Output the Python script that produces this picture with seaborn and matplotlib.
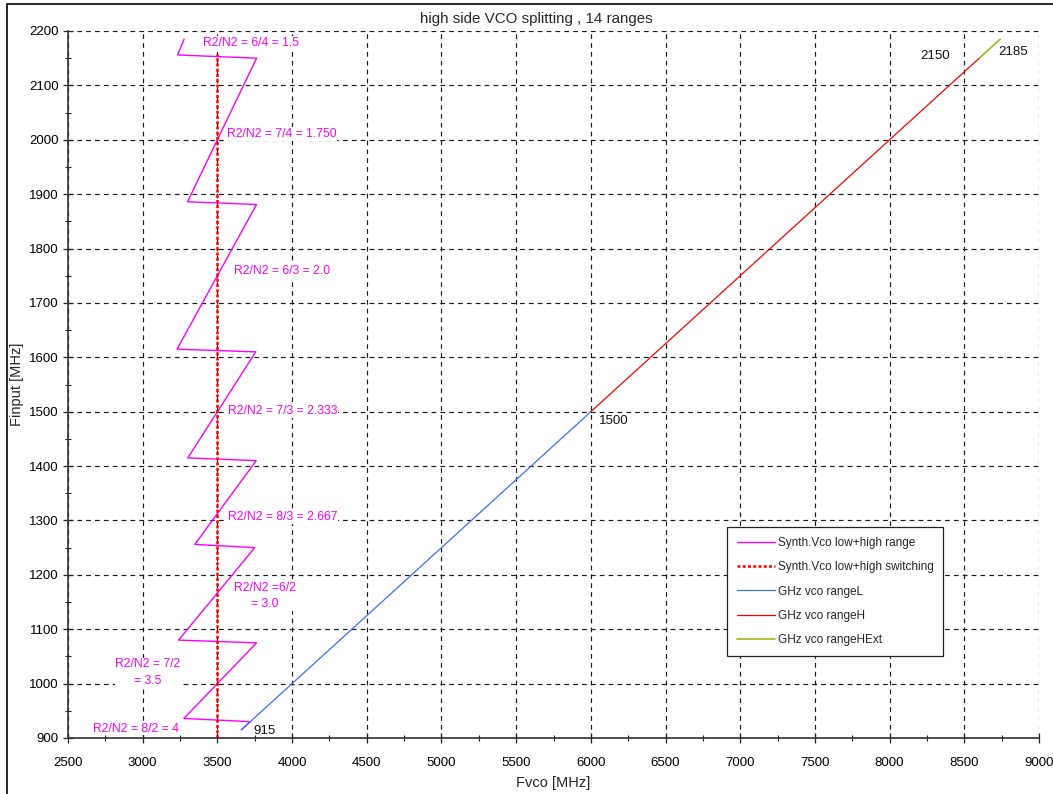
import pandas as pd
import seaborn as sns
import matplotlib.pyplot as plt
from matplotlib.patches import Rectangle
from matplotlib.ticker import MultipleLocator

# synth VCO zig-zag (low+high range)
synth_fvco = [3277.5, 3234, 3762.5, 3300.5, 3762, 3230, 3757, 3302, 3760, 3349,
              3750, 3240, 3762.5, 3276, 3720, 3660]
synth_finput = [2185, 2156, 2150, 1886, 1881, 1615, 1610, 1415, 1410, 1256,
                1250, 1080, 1075, 936, 930, 915]

# switching line
switch_fvco = [3500, 3500]
switch_finput = [900, 2158]

# GHz vco ranges
range_l_fvco = [3660, 6000]
range_l_finput = [915, 1500]
range_h_fvco = [6000, 8600]
range_h_finput = [1500, 2150]
range_hext_fvco = [8600, 8740]
range_hext_finput = [2150, 2185]

ratio_labels = ["R2/N2 = 6/4 = 1.5", "R2/N2 = 7/4 = 1.750", "R2/N2 = 6/3 = 2.0",
                "R2/N2 = 7/3 = 2.333", "R2/N2 = 8/3 = 2.667", "R2/N2 =6/2\n= 3.0",
                "R2/N2 = 7/2\n= 3.5", "R2/N2 = 8/2 = 4"]
ratio_label_pos = [(3725, 2178), (3932, 2011), (3932, 1759), (3939, 1501),
                   (3939, 1306), (3819, 1161), (3035, 1020), (2955, 917)]

point_labels = ["915", "1500", "2150", "2185"]
point_label_pos = [(3740, 913), (6054, 1483), (8203, 2154), (8725, 2161)]

sns.set_theme(style="ticks")
plt.rcParams['font.family'] = ['Liberation Sans', 'DejaVu Sans']

fig = plt.figure(figsize=(10.53, 7.94), dpi=100)
ax = fig.add_axes([68 / 1053, 1 - 738 / 794, (1039 - 68) / 1053, (738 - 31) / 794])

series = [
    (synth_fvco, synth_finput, "Synth.Vco low+high range", "#ff00ff", "-", 1.0),
    (switch_fvco, switch_finput, "Synth.Vco low+high switching", "#ff0000", (0, (1.2, 0.9)), 1.8),
    (range_l_fvco, range_l_finput, "GHz vco rangeL", "#3a6ff7", "-", 0.9),
    (range_h_fvco, range_h_finput, "GHz vco rangeH", "#ff0000", "-", 0.9),
    (range_hext_fvco, range_hext_finput, "GHz vco rangeHExt", "#a8b41c", "-", 1.2),
]
for xs, ys, name, color, ls, lw in series:
    df = pd.DataFrame({"fvco": xs, "finput": ys})
    sns.lineplot(ax=ax, data=df, x="fvco", y="finput", sort=False, estimator=None,
                 color=color, linestyle=ls, linewidth=lw, label=name)

ax.set_xlim(2500, 9000)
ax.set_ylim(900, 2200)
ax.xaxis.set_major_locator(MultipleLocator(500))
ax.xaxis.set_minor_locator(MultipleLocator(250))
ax.yaxis.set_major_locator(MultipleLocator(100))
ax.yaxis.set_minor_locator(MultipleLocator(50))
ax.tick_params(which='major', direction='inout', length=7, width=0.9, colors='#222222',
               labelsize=9.5, labelcolor='black')
ax.tick_params(which='minor', direction='inout', length=4, width=0.8, colors='#222222')
ax.tick_params(axis='x', pad=10)
ax.tick_params(axis='y', pad=3)
ax.grid(True, which='major', color='#1a1a1a', linestyle=(0, (4, 3.5)), linewidth=0.85)
for side in ['top', 'right']:
    ax.spines[side].set_visible(False)
for side in ['left', 'bottom']:
    ax.spines[side].set_color('#333333')
    ax.spines[side].set_linewidth(1.2)

ax.set_xlabel("Fvco [MHz]", fontsize=10.5, labelpad=5)
ax.set_ylabel("Finput [MHz]", fontsize=10.5)
ax.yaxis.set_label_coords((24 - 68) / 971, 0.5)
fig.text(536 / 1053, 1 - 19 / 794, "high side VCO splitting , 14 ranges",
         fontsize=10.9, ha='center', va='center')

for text, (x, y) in zip(ratio_labels, ratio_label_pos):
    ax.text(x, y, text, color="#ff00ff", fontsize=8.8, ha='center', va='center',
            linespacing=1.5, zorder=5,
            bbox=dict(facecolor='white', edgecolor='none', pad=0.5))

for text, (x, y) in zip(point_labels, point_label_pos):
    ax.text(x, y, text, color="#111111", fontsize=9.5, ha='left', va='center', zorder=5)

leg = ax.legend(loc='upper left', bbox_to_anchor=(0.679, 0.298), fontsize=8.5,
                frameon=True, fancybox=False, framealpha=1, edgecolor='#222222',
                handlelength=3.2, handletextpad=0.3, labelspacing=1.05, borderpad=0.8,
                borderaxespad=0)
leg.get_frame().set_linewidth(0.9)

fig.patches.append(Rectangle((7 / 1053, -0.1), 1.2, 1.1 - 4 / 794, transform=fig.transFigure,
                             fill=False, edgecolor='black', linewidth=1.2, clip_on=False))

plt.savefig("out.png", dpi=100)
